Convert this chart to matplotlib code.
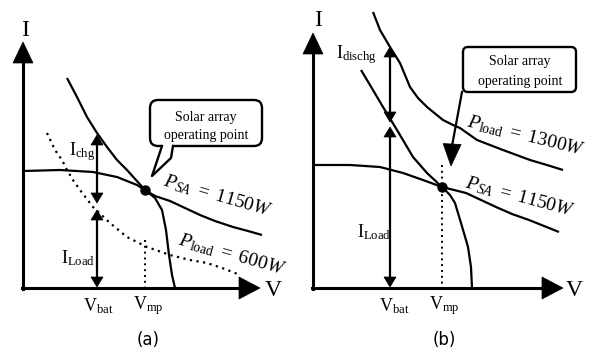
import numpy as np
import matplotlib.pyplot as plt
from matplotlib.patches import FancyBboxPatch, Polygon

plt.rcParams['mathtext.fontset'] = 'custom'
plt.rcParams['mathtext.rm'] = 'Liberation Serif'
plt.rcParams['mathtext.it'] = 'Liberation Serif:italic'
plt.rcParams['font.family'] = ['Liberation Serif', 'DejaVu Serif']

SERIF = 'Liberation Serif'

# curves, (x, y) in image pixels, y grows downward
# panel (a)
iv_a = [(23, 171), (60, 170), (93, 172), (117, 177), (137, 185), (145, 190),
        (155, 198), (162, 210), (166, 230), (169, 255), (172, 275), (175, 288)]
psa_a = [(67, 78), (77, 97), (87, 117), (97, 133), (107, 147), (117, 160),
         (127, 170), (136, 180), (145, 190), (155, 196), (170, 201), (185, 208),
         (200, 215), (215, 221), (233, 227), (248, 231), (262, 235)]
pload_a = [(47, 133), (55, 150), (62, 160), (67, 170), (73, 180), (80, 190),
           (93, 207), (110, 223), (127, 237), (147, 247), (170, 255), (190, 260),
           (207, 263), (225, 269), (240, 275)]
# panel (b)
iv_b = [(313, 165), (350, 165), (380, 167), (403, 173), (423, 180), (442, 187),
        (450, 195), (455, 203), (461, 223), (466, 240), (468, 247), (471, 267),
        (472, 288)]
psa_b = [(361, 70), (370, 85), (383, 107), (397, 130), (413, 157), (427, 173),
         (442, 187), (454, 190), (466, 193), (481, 200), (496, 207), (512, 214),
         (529, 220), (544, 226), (559, 232)]
pload_b = [(373, 12), (380, 30), (390, 47), (400, 63), (410, 87), (418, 98),
           (427, 107), (443, 120), (453, 125), (460, 128), (477, 140), (503, 150),
           (530, 160), (547, 165), (563, 170)]

op_a = (145, 190)
op_b = (442, 187)

fig = plt.figure(figsize=(5.92, 3.6), dpi=100)
ax = fig.add_axes([0, 0, 1, 1])
ax.set_xlim(0, 592)
ax.set_ylim(360, 0)
ax.axis('off')


def head(tip, d, length=10, width=12):
    tx, ty = tip
    dx, dy = d
    n = np.hypot(dx, dy)
    dx, dy = dx / n, dy / n
    bx, by = tx - dx * length, ty - dy * length
    px, py = -dy * width / 2, dx * width / 2
    ax.add_patch(Polygon([(tx, ty), (bx + px, by + py), (bx - px, by - py)],
                         closed=True, fc='black', ec='black', lw=0.5, zorder=5))


def curve(pts, **kw):
    xs, ys = zip(*pts)
    ax.plot(xs, ys, color='black', solid_capstyle='butt', **kw)


def axes_pair(x0, y0, ytip, xtip):
    ax.plot([x0, x0], [y0 + 1, ytip + 15], color='black', lw=2.2)
    ax.plot([x0 - 1, xtip - 15], [y0, y0], color='black', lw=2.2)
    head((x0, ytip), (0, -1), length=21, width=20)
    head((xtip, y0), (1, 0), length=21, width=22)


def dbl(x, y1, y2):
    ax.plot([x, x], [y1 + 5, y2 - 5], color='black', lw=1.6)
    head((x, y1), (0, -1))
    head((x, y2), (0, 1))


def sub(main, s):
    return r'$\mathrm{%s}_{\mathrm{%s}}$' % (main, s)


def label(x, y, s, size=13, **kw):
    ax.text(x, y, s, ha='center', va='center', fontsize=size, family=SERIF, **kw)


# ---- panel (a)
axes_pair(23, 288, 42, 260)
curve(iv_a, lw=1.6)
curve(psa_a, lw=1.6)
curve(pload_a, lw=1.6, linestyle=(0, (1, 2)))
ax.plot([145, 145], [240, 288], color='black', lw=1.4, linestyle=(0, (1, 2)))
dbl(97, 135, 203)
dbl(97, 210, 287)
ax.plot(*op_a, 'o', color='black', ms=6.5, zorder=6)

box = FancyBboxPatch((150, 100), 112, 46, boxstyle='round,pad=0,rounding_size=8',
                     fc='white', ec='black', lw=1.7, zorder=3)
ax.add_patch(box)
ax.add_patch(Polygon([(162, 143), (152, 176), (171, 158), (173, 143)],
                     closed=True, fc='white', ec='none', zorder=4))
ax.plot([162, 152, 171, 173], [146, 176, 158, 146], color='black', lw=1.7, zorder=4)
label(206, 118, 'Solar array', size=10, zorder=5)
label(206, 136, 'operating point', size=10, zorder=5)

label(25, 30, 'I', size=17)
label(273, 290, 'V', size=17)
label(82, 152, sub('I', 'chg'))
label(78, 258, sub('I', 'Load'))
label(98, 306, sub('V', 'bat'))
label(148, 306, sub('V', 'mp'))
label(218, 196, r'$P_{SA}\ =\ 1150W$', size=14, rotation=-16)
label(232, 255, r'$P_{\mathrm{load}}\ =\ 600W$', size=14, rotation=-16)
ax.text(148, 340, '(a)', ha='center', va='center', fontsize=12, family='DejaVu Sans')

# ---- panel (b)
axes_pair(313, 288, 33, 563)
curve(iv_b, lw=1.6)
curve(psa_b, lw=1.6)
curve(pload_b, lw=1.6)
ax.plot([442, 442], [165, 288], color='black', lw=1.4, linestyle=(0, (1, 2)))
dbl(390, 47, 122)
dbl(390, 127, 287)
ax.plot(*op_b, 'o', color='black', ms=6.5, zorder=6)

box = FancyBboxPatch((463, 47), 113, 45, boxstyle='round,pad=0,rounding_size=5',
                     fc='white', ec='black', lw=1.7, zorder=3)
ax.add_patch(box)
ax.plot([462, 452], [92, 146], color='black', lw=1.6)
head((451, 166), (-1, 20), length=22, width=18)
label(520, 61, 'Solar array', size=10, zorder=5)
label(520, 81, 'operating point', size=10, zorder=5)

label(318, 20, 'I', size=17)
label(574, 290, 'V', size=17)
label(356, 55, sub('I', 'dischg'))
label(374, 232, sub('I', 'Load'))
label(394, 306, sub('V', 'bat'))
label(444, 306, sub('V', 'mp'))
label(526, 136, r'$P_{\mathrm{load}}\ =\ 1300W$', size=14, rotation=-14)
label(520, 197, r'$P_{SA}\ =\ 1150W$', size=14, rotation=-15)
ax.text(444, 340, '(b)', ha='center', va='center', fontsize=12, family='DejaVu Sans')

fig.savefig('out.png', dpi=100)
